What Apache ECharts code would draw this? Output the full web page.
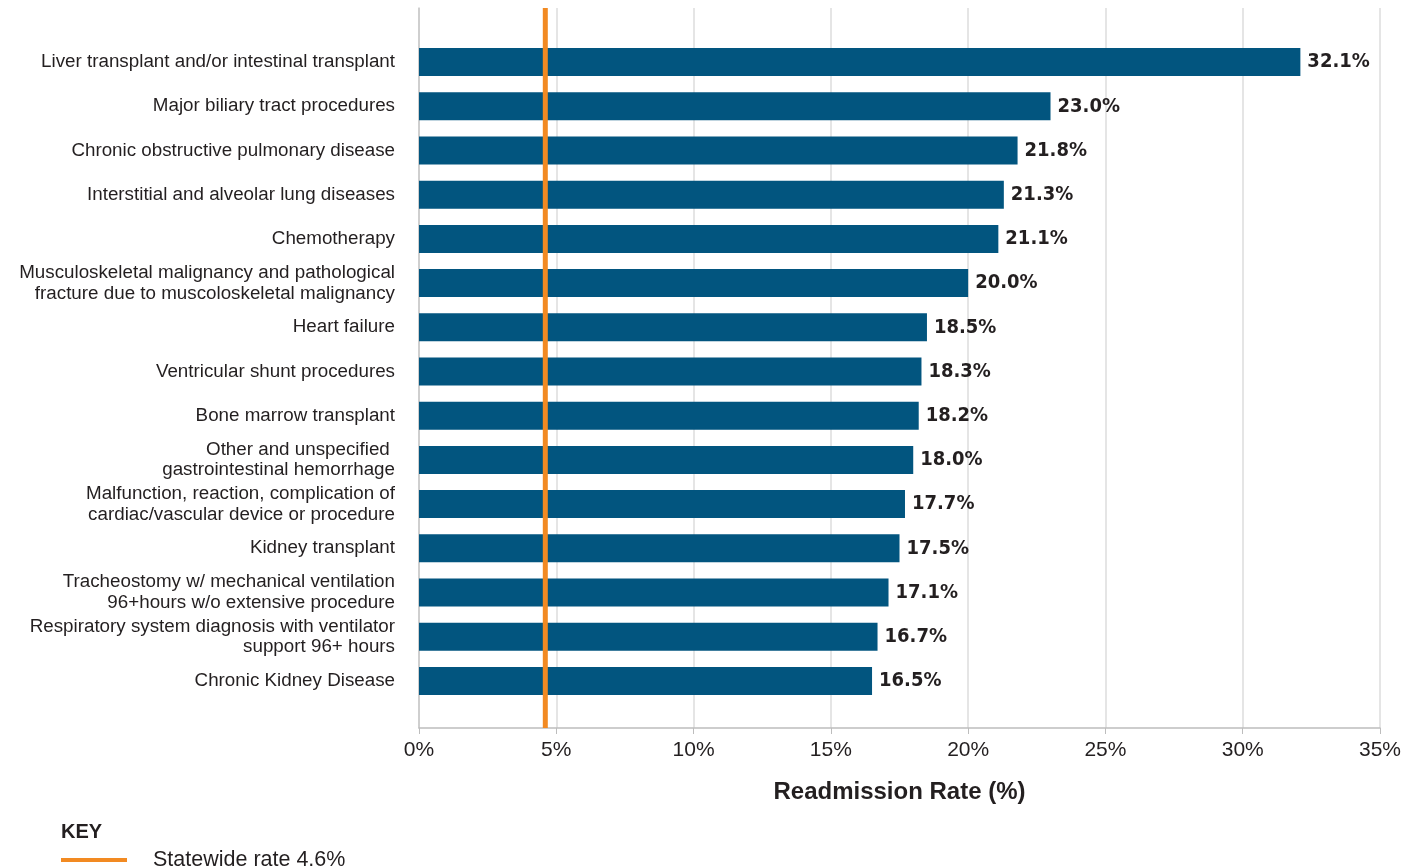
<!DOCTYPE html>
<html>
<head>
<meta charset="utf-8">
<script src="https://cdn.jsdelivr.net/npm/echarts@6/dist/echarts.min.js"></script>
<style>
  html, body { margin: 0; padding: 0; background: #fff; }
  #chart { width: 1422px; height: 868px; }
</style>
</head>
<body>
<div id="chart"></div>
<script>
// categories, top to bottom
var categories = [
  'Liver transplant and/or intestinal transplant',
  'Major biliary tract procedures',
  'Chronic obstructive pulmonary disease',
  'Interstitial and alveolar lung diseases',
  'Chemotherapy',
  'Musculoskeletal malignancy and pathological\nfracture due to muscoloskeletal malignancy',
  'Heart failure',
  'Ventricular shunt procedures',
  'Bone marrow transplant',
  'Other and unspecified \ngastrointestinal hemorrhage',
  'Malfunction, reaction, complication of\ncardiac/vascular device or procedure',
  'Kidney transplant',
  'Tracheostomy w/ mechanical ventilation\n96+hours w/o extensive procedure',
  'Respiratory system diagnosis with ventilator\nsupport 96+ hours',
  'Chronic Kidney Disease'
];
var rates = [32.1, 23.0, 21.8, 21.3, 21.1, 20.0, 18.5, 18.3, 18.2, 18.0, 17.7, 17.5, 17.1, 16.7, 16.5];
var statewideRate = 4.6;
var xTicks = [0, 35, 5]; // min, max, interval

var chart = echarts.init(document.getElementById('chart'));

var option = {
  animation: false,
  title: {
    text: 'KEY',
    left: 56,
    top: 817,
    textStyle: { fontFamily: 'Liberation Sans', fontSize: 20, fontWeight: 'bold', color: '#231f20' }
  },
  legend: {
    data: ['Statewide rate ' + statewideRate + '%'],
    left: 56,
    top: 844,
    icon: 'rect',
    itemWidth: 66,
    itemHeight: 4,
    textStyle: { fontFamily: 'Liberation Sans', fontSize: 21.5, color: '#231f20', padding: [0, 0, 0, 21] }
  },
  grid: [
    // axis + gridlines
    { left: 419, right: 42, top: 8, bottom: 140 },
    // bars
    { left: 419, right: 42, top: 40, bottom: 165 }
  ],
  xAxis: [
    {
      type: 'value', gridIndex: 0,
      min: xTicks[0], max: xTicks[1], interval: xTicks[2],
      axisLine: { show: true, lineStyle: { color: '#bdbdbd', width: 1.5 } },
      axisTick: { show: true, length: 6, lineStyle: { color: '#bdbdbd' } },
      axisLabel: { formatter: '{value}%', fontFamily: 'Liberation Sans', fontSize: 21, color: '#231f20', margin: 12 },
      splitLine: { show: true, lineStyle: { color: '#dcdcdc', width: 1.5 } },
      name: 'Readmission Rate (%)',
      nameLocation: 'middle',
      nameGap: 52,
      nameTextStyle: { fontFamily: 'Liberation Sans', fontSize: 24, fontWeight: 'bold', color: '#231f20' }
    },
    {
      type: 'value', gridIndex: 1,
      min: xTicks[0], max: xTicks[1], interval: xTicks[2],
      show: false
    }
  ],
  yAxis: [
    {
      type: 'value', gridIndex: 0, min: 0, max: 1,
      axisLine: { show: true, onZero: false, lineStyle: { color: '#c8c8c8', width: 1.5 } },
      axisTick: { show: false }, axisLabel: { show: false }, splitLine: { show: false }
    },
    {
      type: 'category', gridIndex: 1, inverse: true,
      data: categories,
      axisLine: { show: false }, axisTick: { show: false },
      axisLabel: {
        fontFamily: 'Liberation Sans', fontSize: 18.8, color: '#231f20',
        lineHeight: 20.5, margin: 24, align: 'right', padding: [4, 0, 0, 0]
      }
    }
  ],
  series: [
    {
      name: 'Readmission rate',
      type: 'bar',
      xAxisIndex: 1, yAxisIndex: 1,
      data: rates,
      barWidth: 28,
      itemStyle: { color: '#02557f' },
      label: {
        show: true,
        position: 'right',
        distance: 7,
        formatter: function (p) { return p.value.toFixed(1) + '%'; },
        fontFamily: 'DejaVu Sans Condensed, sans-serif',
        fontSize: 20,
        fontWeight: 'bold',
        color: '#231f20'
      },
      z: 2
    },
    {
      name: 'Statewide rate ' + statewideRate + '%',
      type: 'line',
      xAxisIndex: 0, yAxisIndex: 0,
      data: [[statewideRate, 0], [statewideRate, 1]],
      showSymbol: false,
      symbol: 'none',
      lineStyle: { color: '#f28a22', width: 5 },
      itemStyle: { color: '#f28a22' },
      z: 5
    }
  ]
};

chart.setOption(option);
</script>
</body>
</html>
